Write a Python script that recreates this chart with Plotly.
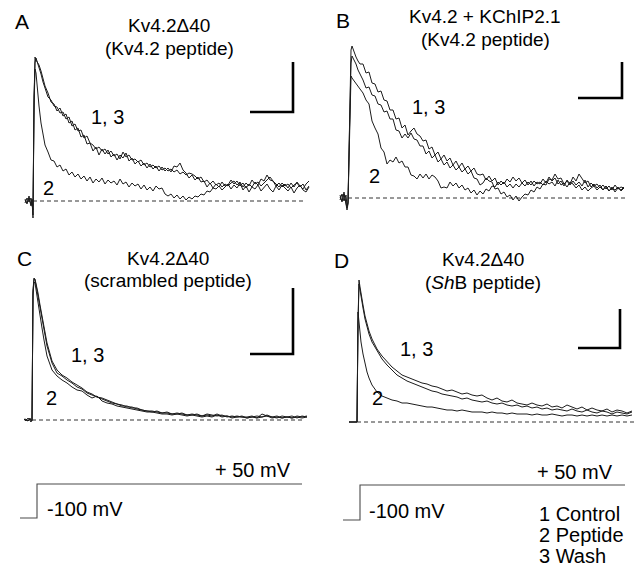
import plotly.graph_objects as go

W, H = 635, 566

# ---------------- data ----------------
# sampling times (ms after the voltage step) for the noisy panels A and B
T_FINE = [-8, -6, -4, -2, -1, 0, 1, 2, 3, 4, 6, 8, 10, 12,
          15, 18, 21, 24, 27, 30, 33, 36, 39, 42,
          45, 48, 51, 54, 57, 60, 63, 66, 69, 72,
          75, 78, 81, 84, 87, 90, 93, 96, 99, 102,
          105, 108, 111, 114, 117, 120, 123, 126, 129, 132,
          135, 138, 141, 144, 147, 150, 153, 156, 159, 162,
          165, 168, 171, 174, 177, 180, 183, 186, 189, 192,
          195, 198, 201, 204, 207, 210, 213, 216, 219, 222,
          225, 228, 231, 234, 237, 240, 243, 246, 249, 252,
          255, 258, 261, 264, 267, 270, 273, 276]

# sampling times for panels C and D
T = [-8, -6, -4, -2, -1, 0, 1, 2, 3, 4, 6, 8, 10, 12, 15,
     20, 25, 30, 35, 40, 45, 50, 55, 60, 65, 70, 75, 80, 85, 90, 95, 100, 105, 110, 115,
     120, 125, 130, 135, 140, 145, 150, 155, 160, 165, 170, 175, 180, 185, 190, 195, 200,
     205, 210, 215, 220, 225, 230, 235, 240, 245, 250, 255, 260, 265, 270, 275]

# Panel A: Kv4.2delta40 + Kv4.2 peptide (current, arbitrary units)
A_CONTROL = [2, -3, 5, -4, 1, -17, 100, 144, 141, 139, 136, 130, 121, 115,
             108, 99, 97, 90, 93, 85, 87, 78, 80, 71,
             73, 64, 66, 57, 58, 50, 54, 46, 52, 47,
             51, 44, 47, 41, 46, 43, 48, 40, 43, 37,
             40, 35, 38, 33, 37, 32, 35, 30, 34, 30,
             33, 29, 35, 34, 38, 31, 28, 23, 26, 21,
             24, 19, 20, 14, 18, 13, 17, 14, 19, 15,
             16, 21, 17, 20, 15, 18, 13, 17, 14, 19,
             16, 22, 20, 26, 21, 20, 15, 18, 14, 17,
             13, 18, 14, 19, 15, 12, 17, 20]
A_PEPTIDE = [1, -2, 3, -5, 2, -14, 105, 132, 128, 115, 95, 78, 65, 56,
             49, 41, 40, 34, 36, 30, 32, 26, 29, 24,
             27, 22, 25, 20, 24, 18, 22, 19, 23, 17,
             21, 18, 20, 16, 22, 17, 19, 14, 18, 15,
             17, 12, 16, 11, 14, 10, 15, 12, 13, 7,
             5, 7, 3, 6, 2, 5, 1, 4, 2, 5,
             4, 7, 6, 10, 9, 13, 12, 15, 11, 14,
             17, 12, 16, 13, 18, 11, 15, 9, 14, 12,
             16, 10, 13, 17, 12, 9, 15, 11, 16, 13,
             10, 14, 8, 13, 16, 11, 9, 14]
A_WASH = [-2, 3, -1, 3, -4, -9, 85, 138, 143, 140, 134, 127, 119, 112,
          104, 101, 95, 94, 88, 89, 82, 84, 75, 77,
          70, 71, 63, 65, 58, 56, 52, 54, 50, 52,
          47, 50, 45, 47, 42, 49, 44, 46, 41, 42,
          39, 41, 36, 38, 34, 36, 33, 35, 31, 33,
          30, 32, 29, 31, 27, 29, 26, 28, 27, 25,
          22, 24, 19, 21, 17, 20, 16, 18, 14, 17,
          15, 18, 20, 16, 19, 14, 18, 15, 21, 17,
          19, 15, 18, 21, 24, 20, 17, 14, 18, 15,
          17, 13, 16, 18, 14, 17, 11, 15]

# Panel B: Kv4.2 + KChIP2.1 + Kv4.2 peptide
B_CONTROL = [3, -4, 6, -9, -12, -6, 60, 125, 148, 152, 146, 141, 137, 134,
             134, 125, 126, 115, 114, 106, 107, 98, 97, 88,
             88, 79, 80, 70, 73, 63, 67, 70, 64, 62,
             57, 58, 49, 51, 43, 46, 39, 43, 37, 40,
             33, 37, 31, 35, 29, 32, 27, 30, 24, 23,
             24, 18, 22, 17, 20, 13, 17, 14, 19, 16,
             21, 17, 20, 15, 18, 13, 17, 12, 16, 14,
             19, 15, 21, 17, 20, 14, 17, 12, 18, 14,
             21, 17, 24, 20, 15, 17, 11, 14, 10, 13,
             8, 12, 7, 11, 6, 10, 8, 11]
B_PEPTIDE = [1, -3, 4, -6, -10, -5, 50, 105, 122, 120, 117, 115, 112, 109,
             105, 98, 94, 77, 70, 64, 50, 46, 34, 38,
             36, 41, 35, 37, 31, 31, 23, 22, 19, 24,
             20, 24, 19, 23, 21, 17, 10, 11, 10, 16,
             12, 15, 10, 13, 8, 10, 5, 8, 3, 7,
             4, 9, 7, 12, 11, 16, 13, 16, 11, 14,
             10, 14, 11, 15, 12, 16, 13, 17, 14, 16,
             13, 17, 14, 16, 12, 18, 13, 15, 11, 16,
             14, 10, 13, 8, 11, 7, 10, 12, 8, 11,
             8, 12, 7, 10, 8, 11, 7, 10]
B_WASH = [-2, 4, -3, 3, -8, -4, 45, 110, 135, 142, 138, 134, 128, 124,
          118, 110, 111, 103, 102, 94, 93, 86, 87, 79,
          79, 68, 67, 60, 64, 60, 65, 59, 58, 52,
          52, 44, 47, 40, 43, 36, 39, 33, 36, 30,
          33, 28, 31, 26, 29, 24, 27, 20, 19, 13,
          15, 20, 17, 16, 9, 10, 4, 6, 1, 3,
          -2, 2, -3, 1, 4, 3, 8, 6, 11, 9,
          14, 13, 19, 18, 24, 19, 20, 14, 17, 13,
          17, 13, 16, 12, 18, 11, 15, 12, 14, 10,
          13, 9, 12, 8, 13, 9, 11, 10]

# Panel C: Kv4.2delta40 + scrambled peptide
C_CONTROL = [1, -1, 2, 0, -2, 0, 130, 142, 140, 135, 124, 112, 100, 89, 74,
             57, 47, 44, 40, 37, 33, 31, 27, 25, 23, 21, 19, 17, 16, 15, 13, 13, 11, 10, 9,
             9, 8, 7, 8, 6, 7, 6, 5, 6, 5, 4, 6, 5, 4, 5, 3, 4, 3, 4, 2,
             3, 4, 3, 5, 3, 4, 2, 3, 4, 2, 4, 3]
C_PEPTIDE = [1, 0, -1, 1, 0, -1, 125, 138, 137, 130, 118, 104, 92, 80, 64,
             50, 44, 40, 37, 33, 30, 29, 25, 22, 24, 19, 17, 16, 14, 13, 12, 11, 10, 9, 8,
             8, 7, 6, 6, 5, 6, 5, 4, 5, 4, 3, 4, 3, 5, 3, 4, 2, 3, 3, 2,
             3, 2, 3, 4, 2, 3, 2, 3, 2, 3, 2, 3]
C_WASH = [0, 1, -1, 2, -1, 1, 128, 141, 141, 137, 127, 115, 103, 92, 77,
          59, 50, 45, 42, 38, 35, 32, 28, 26, 23, 22, 20, 18, 16, 14, 14, 12, 12, 10, 9,
          8, 9, 7, 7, 6, 6, 7, 5, 5, 6, 4, 5, 4, 6, 4, 4, 3, 4, 3, 3,
          4, 2, 6, 4, 3, 2, 4, 3, 2, 4, 3, 4]

# Panel D: Kv4.2delta40 + ShB peptide
D_CONTROL = [0, 0, 0, 0, 0, 0, 100, 142, 135, 128, 117, 106, 98, 91, 83,
             73, 66, 60, 55, 51, 47, 45, 43, 41, 39, 38, 36, 35, 33, 31, 32, 30, 28, 29, 27,
             26, 27, 24, 22, 24, 21, 20, 22, 19, 18, 17, 19, 17, 16, 18, 15, 16, 14, 17, 15,
             13, 15, 12, 14, 12, 11, 13, 10, 12, 11, 9, 11]
D_PEPTIDE = [0, 0, 0, 0, 0, 0, 110, 100, 88, 80, 68, 58, 50, 44, 37,
             30, 26, 24, 22, 21, 19, 19, 18, 17, 16, 15, 15, 14, 13, 12, 12, 11, 12, 11, 10,
             10, 10, 9, 10, 9, 9, 8, 9, 8, 8, 8, 7, 8, 7, 7, 8, 7, 6, 7, 7,
             6, 7, 6, 7, 6, 7, 6, 7, 6, 7, 6, 7]
D_WASH = [0, 0, 0, 0, 0, 0, 98, 138, 132, 125, 114, 103, 95, 88, 80,
          71, 63, 57, 52, 47, 44, 41, 39, 37, 35, 33, 31, 30, 28, 27, 26, 25, 23, 24, 22,
          21, 20, 21, 19, 18, 19, 17, 16, 17, 15, 16, 14, 15, 13, 14, 12, 13, 12, 11, 13,
          11, 10, 12, 10, 9, 11, 10, 8, 10, 9, 8, 10]

# Voltage protocol
V_TIME = [-17, 0, 0, 265]
V_MV = [-100, -100, 50, 50]

PANEL_LETTERS = ["A", "B", "C", "D"]
TITLES_1 = ["Kv4.2\u039440", "Kv4.2 + KChIP2.1", "Kv4.2\u039440", "Kv4.2\u039440"]
TITLES_2 = ["(Kv4.2 peptide)", "(Kv4.2 peptide)", "(scrambled peptide)", "(<i>Sh</i>B peptide)"]
LEGEND_LINES = ["1 Control", "2 Peptide", "3 Wash"]

# ---------------- layout helpers ----------------
def px(x):
    return x / W

def py(y):
    return 1 - y / H

FONT = "Liberation Sans, Arial, Helvetica, sans-serif"

fig = go.Figure()

panels = [
    # step x, baseline y, left, right, top, bottom (pixels)
    dict(step=33, base=201, L=12, R=316, top=30, bot=235, t=T_FINE,
         series=[A_CONTROL, A_PEPTIDE, A_WASH], dash_end=270,
         bar=(260, 89, 50, 43)),
    dict(step=348, base=198, L=330, R=632, top=30, bot=235, t=T_FINE,
         series=[B_CONTROL, B_PEPTIDE, B_WASH], dash_end=277,
         bar=(274, 100, 36, 44)),
    dict(step=32, base=420, L=12, R=316, top=260, bot=440, t=T,
         series=[C_CONTROL, C_PEPTIDE, C_WASH], dash_end=273,
         bar=(261, 66, 66, 43)),
    dict(step=357, base=422, L=330, R=635, top=260, bot=440, t=T,
         series=[D_CONTROL, D_PEPTIDE, D_WASH], dash_end=278,
         bar=(263, 74, 39, 42)),
]

layout_axes = {}
for i, p in enumerate(panels, start=1):
    sfx = "" if i == 1 else str(i)
    layout_axes["xaxis" + sfx] = dict(domain=[px(p["L"]), px(p["R"])],
                                      range=[p["L"] - p["step"], p["R"] - p["step"]],
                                      visible=False, anchor="y" + sfx)
    layout_axes["yaxis" + sfx] = dict(domain=[py(p["bot"]), py(p["top"])],
                                      range=[p["base"] - p["bot"], p["base"] - p["top"]],
                                      visible=False, anchor="x" + sfx)
    xr, yr = "x" + sfx, "y" + sfx
    fig.add_trace(go.Scatter(x=[0, p["dash_end"]], y=[0, 0], mode="lines",
                             line=dict(color="#333333", width=1, dash="4px,3px"),
                             xaxis=xr, yaxis=yr, showlegend=False, hoverinfo="skip"))
    for s in p["series"]:
        fig.add_trace(go.Scatter(x=p["t"], y=s, mode="lines",
                                 line=dict(color="#1c1c1c", width=1),
                                 xaxis=xr, yaxis=yr, showlegend=False, hoverinfo="skip"))
    cx, cy, vlen, hlen = p["bar"]
    fig.add_trace(go.Scatter(x=[cx, cx, cx - hlen], y=[cy + vlen, cy, cy], mode="lines",
                             line=dict(color="black", width=2.6),
                             xaxis=xr, yaxis=yr, showlegend=False, hoverinfo="skip"))

# voltage protocols (two copies)
prot = [dict(step=37, low=518, high=484, L=10, R=315),
        dict(step=360, low=520, high=485, L=330, R=635)]
for j, q in enumerate(prot, start=5):
    mv_per_px = 150 / (q["low"] - q["high"])
    top_px, bot_px = 455, 535
    layout_axes[f"xaxis{j}"] = dict(domain=[px(q["L"]), px(q["R"])],
                                    range=[q["L"] - q["step"], q["R"] - q["step"]],
                                    visible=False, anchor=f"y{j}")
    layout_axes[f"yaxis{j}"] = dict(domain=[py(bot_px), py(top_px)],
                                    range=[-100 - (bot_px - q["low"]) * mv_per_px,
                                           -100 + (q["low"] - top_px) * mv_per_px],
                                    visible=False, anchor=f"x{j}")
    fig.add_trace(go.Scatter(x=V_TIME, y=V_MV, mode="lines",
                             line=dict(color="#4a4a4a", width=1.1),
                             xaxis=f"x{j}", yaxis=f"y{j}", showlegend=False, hoverinfo="skip"))

ann = []

def text(x, y, s, anchor="center", size=20):
    ann.append(dict(x=px(x), y=py(y), xref="paper", yref="paper", text=s,
                    showarrow=False, xanchor=anchor, yanchor="middle",
                    font=dict(family=FONT, size=size, color="black")))

letter_pos = [(22, 21), (343, 20), (24, 259), (341, 261)]
title_pos = [(169, 26, 48), (485, 17, 39), (168, 258, 280), (483, 260, 282)]
lab13 = [(107, 117), (428, 107), (87, 355), (416, 349)]
lab2 = [(48, 188), (375, 176), (51, 398), (377, 398)]
for k in range(4):
    text(*letter_pos[k], PANEL_LETTERS[k], size=21)
    tx, t1, t2 = title_pos[k]
    text(tx, t1, TITLES_1[k], size=19)
    text(tx, t2, TITLES_2[k], size=19)
    text(*lab13[k], "1, 3")
    text(*lab2[k], "2")

text(253, 470, "+ 50 mV")
text(575, 472, "+ 50 mV")
text(45, 509, "-100 mV", anchor="left")
text(367, 511, "-100 mV", anchor="left")
for k, line in enumerate(LEGEND_LINES):
    text(537, 514 + 21 * k, line, anchor="left")

fig.update_layout(width=W, height=H, margin=dict(l=0, r=0, t=0, b=0),
                  paper_bgcolor="white", plot_bgcolor="rgba(0,0,0,0)",
                  showlegend=False, annotations=ann, **layout_axes)

fig.write_html("out.html", config={"displayModeBar": False, "staticPlot": True},
               post_script="document.body.style.margin='0';document.body.style.overflow='hidden';")
